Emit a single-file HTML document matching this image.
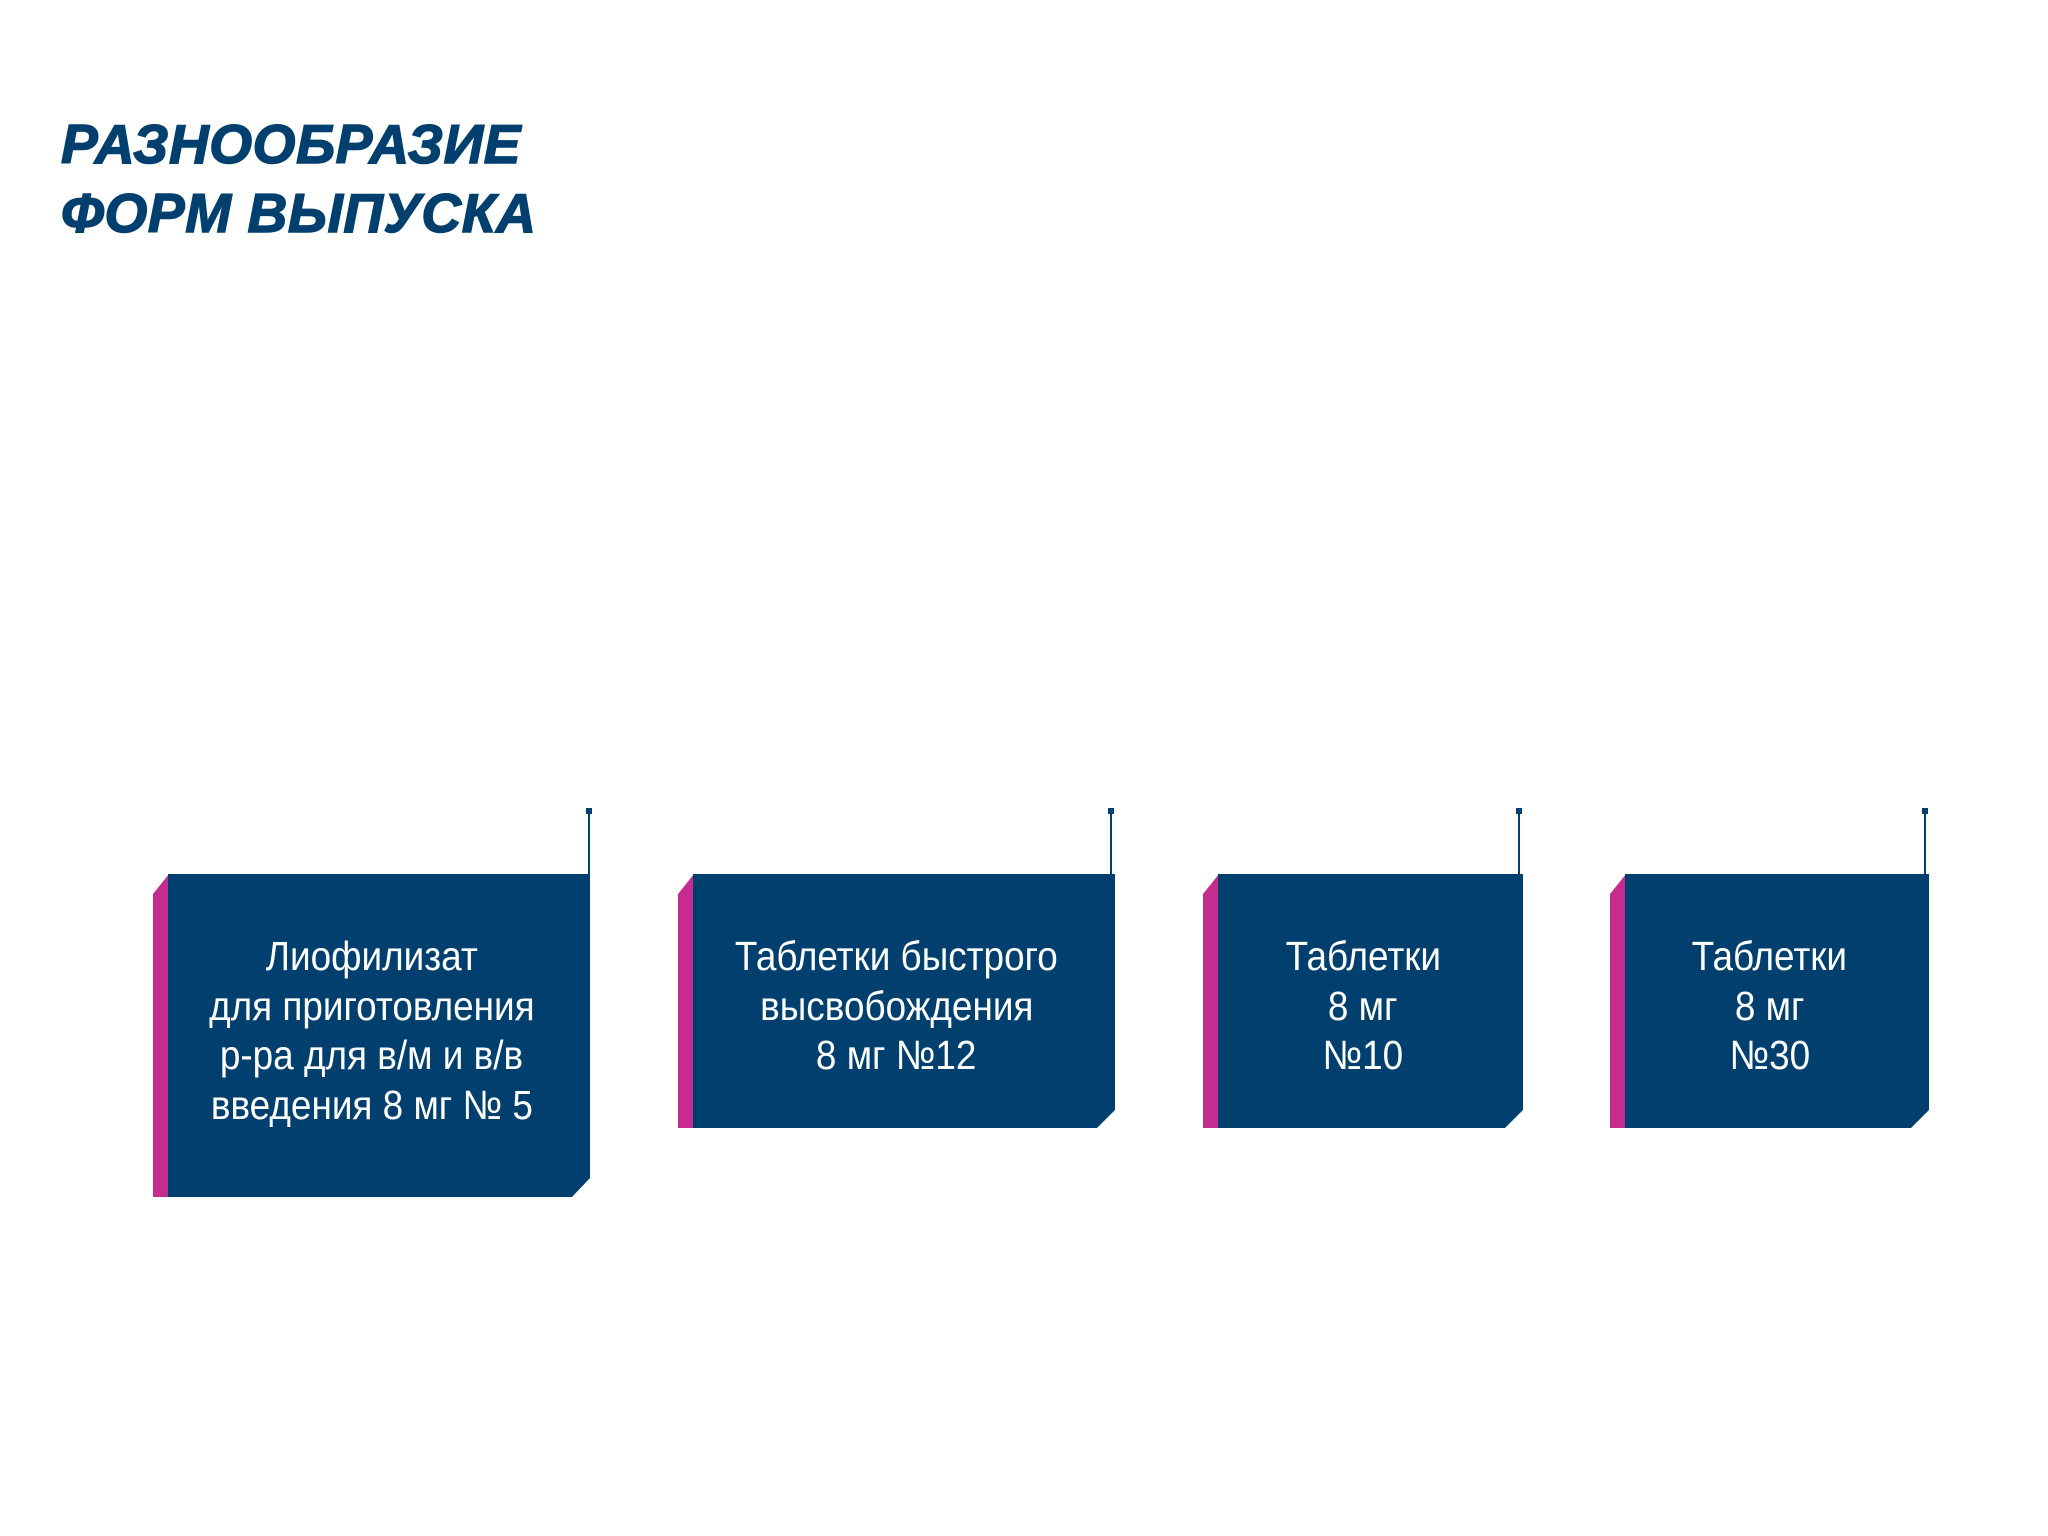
<!DOCTYPE html>
<html><head><meta charset="utf-8"><style>
html,body{margin:0;padding:0;background:#fff;}
body{width:2048px;height:1536px;position:relative;overflow:hidden;}
.t{position:absolute;left:61px;font-family:"Liberation Sans",sans-serif;font-weight:bold;font-style:italic;color:#013f6f;font-size:55px;line-height:69px;top:110px;-webkit-text-stroke:1.5px #013f6f;letter-spacing:0.6px;}
.lbl{position:absolute;top:932px;font-family:"Liberation Sans","DejaVu Sans",sans-serif;color:#fff;font-size:41px;line-height:49.5px;text-align:center;}
.lbl span{display:inline-block;transform:scaleX(0.9);white-space:nowrap;}
</style></head><body>
<div class="t">РАЗНООБРАЗИЕ<br>ФОРМ ВЫПУСКА</div>
<svg width="2048" height="1536" style="position:absolute;left:0;top:0">
<g fill="#c42c8f">
<polygon points="153,894 169,874 169,1197 153,1197"/>
<polygon points="678,894 694,874 694,1128 678,1128"/>
<polygon points="1203,894 1219,874 1219,1128 1203,1128"/>
<polygon points="1610,894 1626,874 1626,1128 1610,1128"/>
</g>
<g fill="#013f6f">
<polygon points="168,874 590,874 590,1178 572,1197 168,1197"/>
<polygon points="693,874 1115,874 1115,1110 1097,1128 693,1128"/>
<polygon points="1218,874 1523,874 1523,1110 1505,1128 1218,1128"/>
<polygon points="1625,874 1929,874 1929,1110 1911,1128 1625,1128"/>
<rect x="586" y="808" width="6" height="6"/>
<rect x="1108" y="808" width="6" height="6"/>
<rect x="1516" y="808" width="6" height="6"/>
<rect x="1922" y="808" width="6" height="6"/>
</g>
<g stroke="#013f6f" stroke-width="2">
<line x1="589" y1="812" x2="589" y2="874"/>
<line x1="1111" y1="812" x2="1111" y2="874"/>
<line x1="1519" y1="812" x2="1519" y2="874"/>
<line x1="1925" y1="812" x2="1925" y2="874"/>
</g>
</svg>
<div class="lbl" style="left:153px;width:437px"><span>Лиофилизат</span><br><span>для приготовления</span><br><span>р-ра для в/м и в/в</span><br><span>введения 8 мг № 5</span></div>
<div class="lbl" style="left:678px;width:437px"><span>Таблетки быстрого</span><br><span>высвобождения</span><br><span>8 мг №12</span></div>
<div class="lbl" style="left:1203px;width:320px"><span>Таблетки</span><br><span>8 мг</span><br><span>№10</span></div>
<div class="lbl" style="left:1610px;width:319px"><span>Таблетки</span><br><span>8 мг</span><br><span>№30</span></div>
</body></html>
